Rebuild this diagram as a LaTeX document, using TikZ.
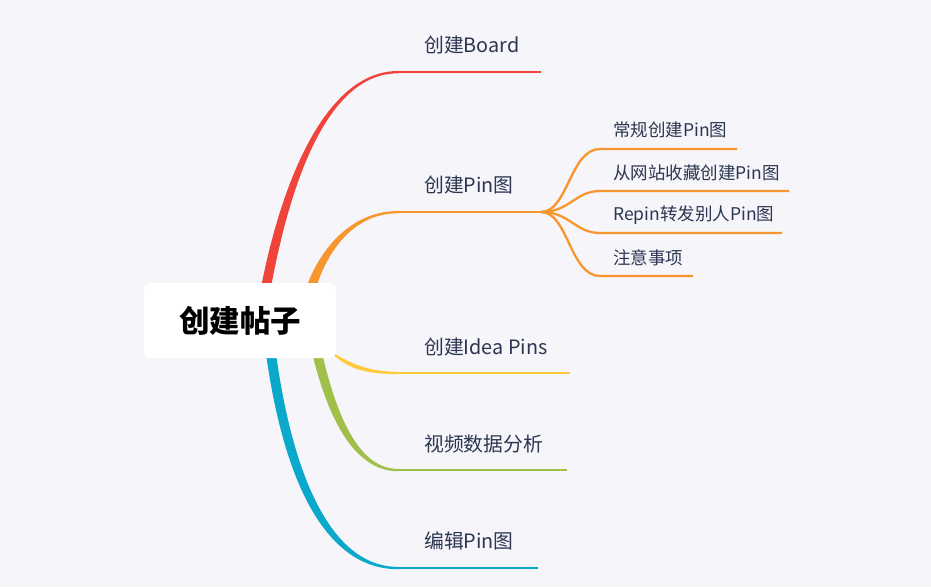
\documentclass[tikz,border=0pt]{standalone}
\usepackage{fontspec}
\setmainfont{Noto Sans CJK SC}
\begin{document}
\begin{tikzpicture}[x=1pt,y=-1pt,
  lbl/.style={anchor=west,inner sep=0pt,text=txt,font=\fontsize{19.8}{22}\selectfont},
  sublbl/.style={anchor=west,inner sep=0pt,text=txt,font=\fontsize{17.5}{19}\selectfont},
  hline/.style={line width=2.3pt,line cap=butt},
  subline/.style={line width=2.3pt,draw=orng}]
\definecolor{bg}{HTML}{F5F5FA}
\definecolor{txt}{HTML}{2D3650}
\definecolor{redb}{HTML}{F0443A}
\definecolor{orng}{HTML}{F7962F}
\definecolor{yel}{HTML}{FFC93C}
\definecolor{grn}{HTML}{A0C04A}
\definecolor{blu}{HTML}{0AA8CB}
\fill[bg] (0,0) rectangle (931,587);
\useasboundingbox (0,0) rectangle (931,587);
% named endpoints
\coordinate (rs) at (262,310); \coordinate (re) at (398,72); \coordinate (rl) at (541,72);
\coordinate (os) at (305,310); \coordinate (oe) at (398,212); \coordinate (ol) at (541,212);
\coordinate (ys) at (318,340); \coordinate (ye) at (398,373); \coordinate (yl) at (570,373);
\coordinate (gs) at (312,330); \coordinate (ge) at (398,470); \coordinate (gl) at (567,470);
\coordinate (bs) at (268,330); \coordinate (be) at (398,568); \coordinate (bl) at (538,568);
% tapered branches
\fill[redb] ([xshift=-5]rs) .. controls (275,200) and (320,71) .. (398,71)
  -- (398,73.3) .. controls (322,73.3) and (285,200) .. ([xshift=5]rs) -- cycle;
\draw[hline,redb] (re) -- (rl);
\fill[orng] ([xshift=-5]os) .. controls (310,260) and (345,211) .. (398,211)
  -- (398,213.3) .. controls (347,213.3) and (320,262) .. ([xshift=5]os) -- cycle;
\draw[hline,orng] (oe) -- (ol);
\fill[yel] ([yshift=-4]ys) .. controls (342,358) and (360,371.8) .. (398,371.8)
  -- (398,374.1) .. controls (358,374.1) and (338,366) .. ([yshift=4]ys) -- cycle;
\draw[hline,yel] (ye) -- (yl);
\fill[grn] ([xshift=-5]gs) .. controls (325,420) and (355,471.2) .. (398,471.2)
  -- (398,468.9) .. controls (360,468.9) and (335,420) .. ([xshift=5]gs) -- cycle;
\draw[hline,grn] (ge) -- (gl);
\fill[blu] ([xshift=-5]bs) .. controls (280,480) and (325,569.2) .. (398,569.2)
  -- (398,566.9) .. controls (333,566.9) and (290,480) .. ([xshift=5]bs) -- cycle;
\draw[hline,blu] (be) -- (bl);
% sub branches
\coordinate (s1) at (600,149); \coordinate (s2) at (600,191);
\coordinate (s3) at (600,233); \coordinate (s4) at (600,276);
\coordinate (s1e) at (737,149); \coordinate (s2e) at (789,191);
\coordinate (s3e) at (782,233); \coordinate (s4e) at (693,276);
\draw[subline] (ol) .. controls (568,212) and (570,149) .. (s1) -- (s1e);
\draw[subline] (ol) .. controls (570,212) and (575,191) .. (s2) -- (s2e);
\draw[subline] (ol) .. controls (570,212) and (575,233) .. (s3) -- (s3e);
\draw[subline] (ol) .. controls (568,212) and (570,276) .. (s4) -- (s4e);
% central node
\node[fill=white,rounded corners=7pt,minimum width=192pt,minimum height=75pt,inner sep=0pt,
  font=\fontsize{30.5}{33}\selectfont\bfseries,text=black] (c) at (240,320.5) {创建帖子};
% labels
\node[lbl] (l1) at (424,45) {创建Board};
\node[lbl] (l2) at (424,185) {创建Pin图};
\node[lbl] (l3) at (424,347) {创建Idea Pins};
\node[lbl] (l4) at (424,444) {视频数据分析};
\node[lbl] (l5) at (424,541) {编辑Pin图};
\node[sublbl] (m1) at (613,130) {常规创建Pin图};
\node[sublbl] (m2) at (613,173) {从网站收藏创建Pin图};
\node[sublbl] (m3) at (613,215) {Repin转发别人Pin图};
\node[sublbl] (m4) at (613,258) {注意事项};
\end{tikzpicture}
\end{document}
